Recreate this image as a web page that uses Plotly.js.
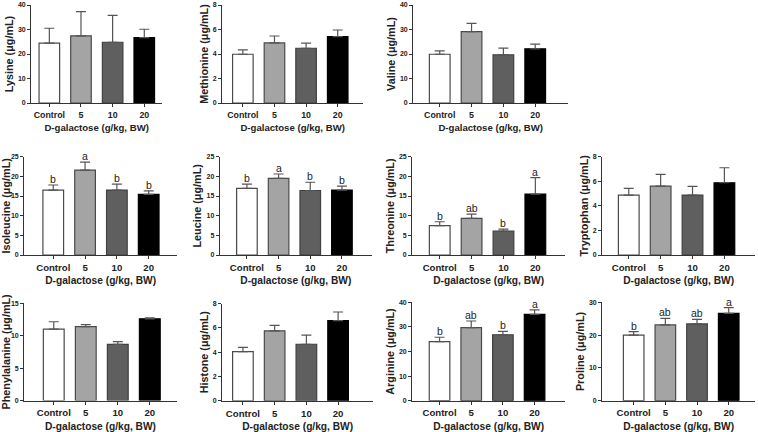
<!DOCTYPE html>
<html>
<head>
<meta charset="utf-8">
<script src="https://cdn.plot.ly/plotly-3.0.1.min.js"></script>
<style>html,body{margin:0;padding:0;background:#fff;}#chart{width:758px;height:432px;}</style>
</head>
<body>
<div id="chart"></div>
<script>
// ---------- data ----------
const categories = ['Control', '5', '10', '20'];
const xTitle = 'D-galactose (g/kg, BW)';
const unit = ' (μg/mL)';

const lysine = [24.4, 27.4, 24.8, 26.7];
const lysineSD = [6.1, 9.9, 11.0, 3.4];
const methionine = [3.98, 4.9, 4.47, 5.42];
const methionineSD = [0.36, 0.57, 0.41, 0.54];
const valine = [19.9, 29.15, 19.7, 22.1];
const valineSD = [1.4, 3.35, 2.7, 1.9];
const isoleucine = [16.5, 21.6, 16.5, 15.4];
const isoleucineSD = [1.3, 2.0, 1.55, 0.9];
const leucine = [16.95, 19.5, 16.4, 16.5];
const leucineSD = [1.1, 1.1, 2.1, 1.0];
const threonine = [7.46, 9.3, 6.1, 15.5];
const threonineSD = [1.0, 1.1, 0.5, 4.2];
const tryptophan = [4.88, 5.61, 4.88, 5.88];
const tryptophanSD = [0.54, 0.95, 0.7, 1.22];
const phenylalanine = [11.0, 11.4, 8.65, 12.6];
const phenylalanineSD = [1.15, 0.3, 0.45, 0.15];
const histone = [4.05, 5.75, 4.65, 6.6];
const histoneSD = [0.35, 0.45, 0.75, 0.7];
const arginine = [24.0, 29.7, 26.8, 35.1];
const arginineSD = [1.8, 2.7, 1.4, 1.8];
const proline = [20.0, 23.1, 23.4, 26.65];
const prolineSD = [1.05, 2.0, 1.4, 1.75];

const isoleucineLetters = ['b', 'a', 'b', 'b'];
const leucineLetters = ['b', 'a', 'b', 'b'];
const threonineLetters = ['b', 'ab', 'b', 'a'];
const arginineLetters = ['b', 'ab', 'b', 'a'];
const prolineLetters = ['b', 'ab', 'ab', 'a'];

const yTicksLysine = [0, 10, 20, 30, 40];
const yTicksMethionine = [0, 2, 4, 6, 8];
const yTicksValine = [0, 10, 20, 30, 40];
const yTicksIsoleucine = [0, 5, 10, 15, 20, 25];
const yTicksLeucine = [0, 5, 10, 15, 20, 25];
const yTicksThreonine = [0, 5, 10, 15, 20, 25];
const yTicksTryptophan = [0, 2, 4, 6, 8];
const yTicksPhenylalanine = [0, 5, 10, 15];
const yTicksHistone = [0, 2, 4, 6, 8];
const yTicksArginine = [0, 10, 20, 30, 40];
const yTicksProline = [0, 10, 20, 30];

// ---------- panels (data refs) ----------
const panels = [
  {name: 'Lysine', v: lysine, sd: lysineSD, ticks: yTicksLysine, letters: null},
  {name: 'Methionine', v: methionine, sd: methionineSD, ticks: yTicksMethionine, letters: null},
  {name: 'Valine', v: valine, sd: valineSD, ticks: yTicksValine, letters: null},
  {name: 'Isoleucine', v: isoleucine, sd: isoleucineSD, ticks: yTicksIsoleucine, letters: isoleucineLetters},
  {name: 'Leucine', v: leucine, sd: leucineSD, ticks: yTicksLeucine, letters: leucineLetters},
  {name: 'Threonine', v: threonine, sd: threonineSD, ticks: yTicksThreonine, letters: threonineLetters},
  {name: 'Tryptophan', v: tryptophan, sd: tryptophanSD, ticks: yTicksTryptophan, letters: null},
  {name: 'Phenylalanine', v: phenylalanine, sd: phenylalanineSD, ticks: yTicksPhenylalanine, letters: null},
  {name: 'Histone', v: histone, sd: histoneSD, ticks: yTicksHistone, letters: null},
  {name: 'Arginine', v: arginine, sd: arginineSD, ticks: yTicksArginine, letters: arginineLetters},
  {name: 'Proline', v: proline, sd: prolineSD, ticks: yTicksProline, letters: prolineLetters}
];

// ---------- geometry (pixels) ----------
const W = 758, H = 432;
const geom = [
  {x0: 31.3, x1: 162, y0: 5, y1: 103, lo: -0.57, hi: 3.56, row: 1},
  {x0: 222.3, x1: 363, y0: 5, y1: 103, lo: -0.65, hi: 3.8, row: 1},
  {x0: 413.3, x1: 568, y0: 5, y1: 103, lo: -0.83, hi: 4.03, row: 1},
  {x0: 24.3, x1: 177, y0: 156.7, y1: 255, lo: -0.91, hi: 3.89, row: 2},
  {x0: 220, x1: 371.7, y0: 156.7, y1: 255, lo: -0.85, hi: 3.94, row: 2},
  {x0: 412.3, x1: 565, y0: 156.7, y1: 255, lo: -0.86, hi: 3.93, row: 2},
  {x0: 602.3, x1: 755, y0: 156.7, y1: 255, lo: -0.83, hi: 3.96, row: 2},
  {x0: 24.3, x1: 176.7, y0: 303.3, y1: 400.5, lo: -0.92, hi: 3.84, row: 3},
  {x0: 222.3, x1: 373, y0: 303.5, y1: 400.8, lo: -0.65, hi: 4.1, row: 3},
  {x0: 412.3, x1: 565, y0: 302.3, y1: 400.7, lo: -0.86, hi: 3.96, row: 3},
  {x0: 602.3, x1: 755, y0: 302.3, y1: 400.7, lo: -0.99, hi: 3.83, row: 3}
];

const FONT = 'Arial, "Liberation Sans", sans-serif';
const barFill = ['#ffffff', '#a4a4a4', '#5f5f5f', '#000000'];
const barLine = ['#4a4a4a', '#4a4a4a', '#404040', '#000000'];
const AX = '#333333';

const data = [];
const layout = {
  width: W, height: H,
  margin: {l: 0, r: 0, t: 0, b: 0},
  paper_bgcolor: '#fff', plot_bgcolor: 'rgba(0,0,0,0)',
  showlegend: false,
  bargap: 0.35,
  annotations: []
};

panels.forEach((p, i) => {
  const g = geom[i];
  const k = i + 1;
  const xs = k === 1 ? '' : String(k);
  const tickSize = g.row === 1 ? 8.8 : 9.6;
  const xTitleSize = g.row === 1 ? 9.6 : 10.2;
  data.push({
    type: 'bar',
    x: categories,
    y: p.v,
    xaxis: 'x' + xs,
    yaxis: 'y' + xs,
    marker: {color: barFill, line: {color: barLine, width: 1.2}},
    error_y: {type: 'data', symmetric: false, array: p.sd, arrayminus: [0, 0, 0, 0],
              color: '#555555', thickness: 1.2, width: 5},
    hoverinfo: 'skip',
    showlegend: false
  });
  layout['xaxis' + xs] = {
    domain: [g.x0 / W, g.x1 / W],
    anchor: 'y' + xs,
    type: 'category',
    range: [g.lo, g.hi],
    showline: true, linecolor: AX, linewidth: 1.2,
    ticks: 'outside', ticklen: 3, tickwidth: 1, tickcolor: AX,
    tickfont: {family: FONT, size: tickSize, color: '#222', weight: 'bold'},
    showgrid: false, zeroline: false, fixedrange: true,
    title: {text: xTitle, font: {family: FONT, size: xTitleSize, color: '#222', weight: 'bold'}, standoff: 5}
  };
  layout['yaxis' + xs] = {
    domain: [1 - g.y1 / H, 1 - g.y0 / H],
    anchor: 'x' + xs,
    range: [0, p.ticks[p.ticks.length - 1]],
    tickmode: 'array', tickvals: p.ticks,
    showline: true, linecolor: AX, linewidth: 1.2,
    ticks: 'outside', ticklen: 3, tickwidth: 1, tickcolor: AX,
    tickfont: {family: FONT, size: 7, color: '#222', weight: 'bold'},
    showgrid: false, zeroline: false, fixedrange: true,
    title: {text: p.name + unit, font: {family: FONT, size: 10.8, color: '#222', weight: 'bold'}, standoff: 2}
  };
  if (p.letters) {
    p.letters.forEach((L, j) => {
      layout.annotations.push({
        xref: 'x' + xs, yref: 'y' + xs,
        x: j, y: p.v[j] + p.sd[j],
        text: L, showarrow: false, yanchor: 'bottom',
        yshift: -2,
        font: {family: FONT, size: 10.5, color: '#222'}
      });
    });
  }
});

Plotly.newPlot('chart', data, layout, {staticPlot: true, displayModeBar: false});
</script>
</body>
</html>
